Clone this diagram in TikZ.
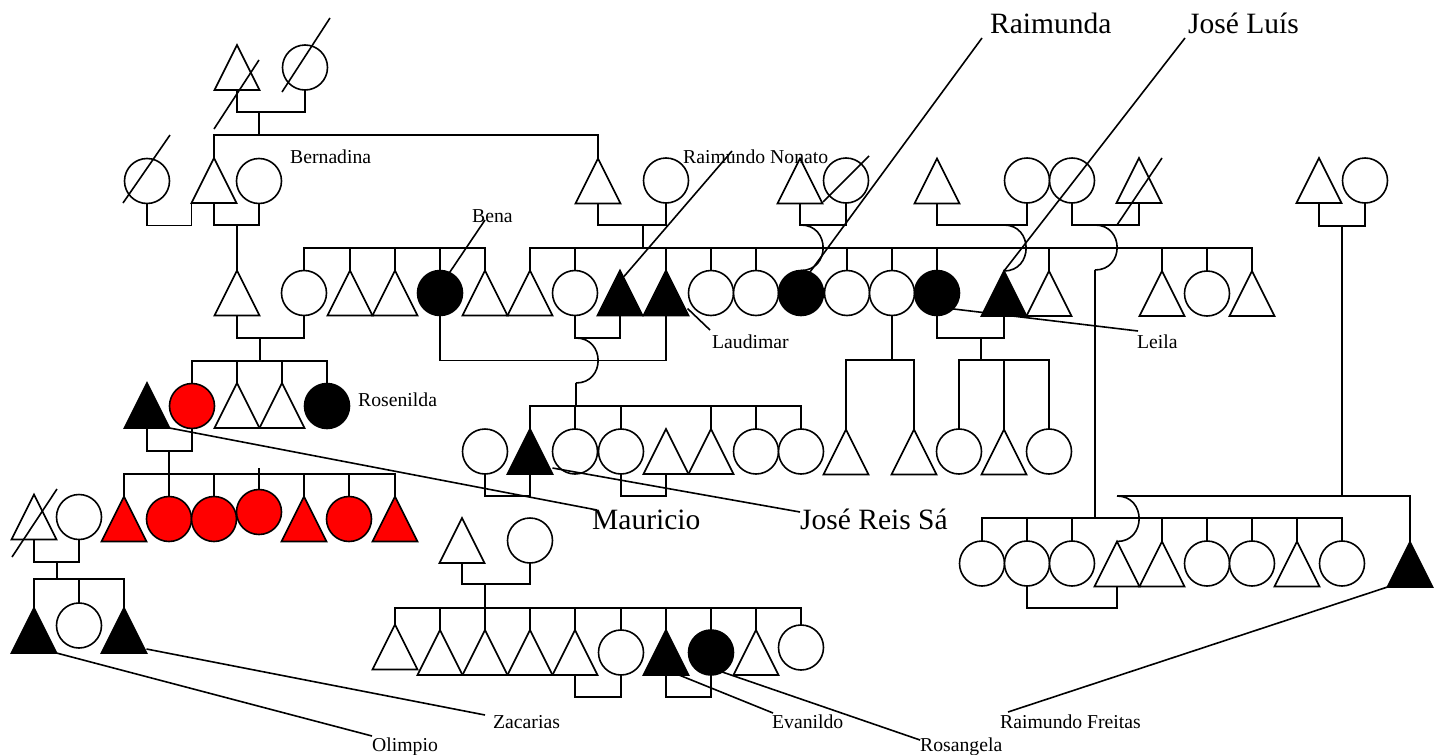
\documentclass[tikz,border=0pt]{standalone}
\usepackage{fontspec}
\setmainfont{Liberation Serif}
\usetikzlibrary{calc}
\tikzset{
 ln/.style={line width=1.6pt},
 tribox/.style={rectangle, minimum width=45pt, minimum height=45pt, inner sep=0pt, outer sep=0pt},
 circ/.style={circle, draw, line width=1.6pt, minimum size=45pt, inner sep=0pt, outer sep=0pt},
 sm/.style={font=\fontsize{19.7}{22}\selectfont, inner sep=0pt, anchor=base west},
 lg/.style={font=\fontsize{29.5}{32}\selectfont, inner sep=0pt, anchor=base west},
}
\newcommand\PTri[4][white]{\node[tribox] (#2) at (#3,#4) {};\filldraw[ln,fill=#1,line join=miter] (#2.south west) -- (#2.north) -- (#2.south east) -- cycle;}
\newcommand\PCir[4][white]{\node[circ,fill=#1] (#2) at (#3,#4) {};}
\newcommand\hop[2]{\draw[ln] (#1) .. controls +(29.5,0) and +(29.5,0) .. (#2);}
\begin{document}
\begin{tikzpicture}[x=1pt,y=-1pt]
\fill[white] (0,0) rectangle (1441,755);
\useasboundingbox (0,0) rectangle (1441,755);
% ---------- people ----------
\PTri{g1m}{237}{67.5}
\PCir{g1f}{305}{67.5}
\PCir{g2a}{147}{181}
\PTri{g2b}{214}{180.5}
\PCir{g2c}{259}{181}
\PTri{g2d}{598}{181}
\PCir{g2e}{666}{180.5}
\PTri{g2f}{800}{181}
\PCir{g2g}{846}{180.5}
\PTri{g2h}{937}{181}
\PCir{g2i}{1027}{180.5}
\PCir{g2j}{1072}{180.5}
\PTri{g2k}{1139}{180.5}
\PTri{g2l}{1319}{180.5}
\PCir{g2m}{1365}{180.5}
% gen 3
\PTri{g3a}{237}{293}
\PCir{c1}{304}{293}
\PTri{c2}{350}{293}
\PTri{c3}{395}{293}
\PCir[black]{c4}{440}{293}
\PTri{c5}{485}{293}
\PTri{d1}{530}{293}
\PCir{d2}{575}{293}
\PTri[black]{d3}{620}{293}
\PTri[black]{d4}{666}{293}
\PCir{d5}{711}{293}
\PCir{d6}{756}{293}
\PCir[black]{d7}{801}{293}
\PCir{d8}{847}{293}
\PCir{d9}{892}{293}
\PCir[black]{d10}{937}{293}
\PTri[black]{d11}{1004}{293.5}
\PTri{d12}{1049}{293.5}
\PTri{d13}{1162}{293.5}
\PCir{d14}{1207}{293.5}
\PTri{d15}{1252}{293.5}
% gen 4 left
\PTri[black]{e1}{147}{405.5}
\PCir[red]{e2}{192}{406}
\PTri{e3}{237}{405.5}
\PTri{e4}{282}{405.5}
\PCir[black]{e5}{327}{406}
% gen 4 middle
\PCir{f1}{485}{451.5}
\PTri[black]{f2}{530}{451.5}
\PCir{f3}{575}{451.5}
\PCir{f4}{621}{451.5}
\PTri{f5}{666}{451.5}
\PTri{f6}{711}{451.5}
\PCir{f7}{756}{451.5}
\PCir{f8}{801}{451.5}
\PTri{f9}{846}{452}
\PTri{f10}{914}{452}
\PCir{f11}{959}{451.5}
\PTri{f12}{1004}{452}
\PCir{f13}{1049}{451.5}
% gen 5 red
\PTri[red]{h1}{124}{519}
\PCir[red]{h2}{169}{519}
\PCir[red]{h3}{214}{519}
\PCir[red]{h4}{259}{512}
\PTri[red]{h5}{304}{519}
\PCir[red]{h6}{349}{519}
\PTri[red]{h7}{395}{519}
% bottom left
\PTri{k1}{34}{517}
\PCir{k2}{79}{517}
\PTri[black]{k3}{34}{630.5}
\PCir{k4}{79}{625.5}
\PTri[black]{k5}{124}{630.5}
% bottom middle
\PTri{m1}{462}{540.5}
\PCir{m2}{530}{540.5}
\PTri{n1}{395}{647}
\PTri{n2}{440}{652.5}
\PTri{n3}{485}{652.5}
\PTri{n4}{530}{652.5}
\PTri{n5}{575}{652.5}
\PCir{n6}{621}{652.5}
\PTri[black]{n7}{666}{652.5}
\PCir[black]{n8}{711}{652.5}
\PTri{n9}{756}{652.5}
\PCir{n10}{801}{647.5}
% bottom right
\PCir{p1}{982}{563.5}
\PCir{p2}{1027}{563.5}
\PCir{p3}{1072}{563.5}
\PTri{p4}{1117}{564}
\PTri{p5}{1162}{564}
\PCir{p6}{1207}{563.5}
\PCir{p7}{1252}{563.5}
\PTri{p8}{1297}{564}
\PCir{p9}{1342}{563.5}
\PTri[black]{p10}{1410}{564.5}
% ---------- connectors ----------
\coordinate (D1) at (259,112); \coordinate (S1) at (259,135);
\draw[ln] (g1m.south) |- (D1) -| (g1f.south);
\draw[ln] (D1) -- (S1);
\draw[ln] (g2b.north) |- (S1) -| (g2d.north);
\draw[ln] (g2a.south) -- ++(0,22) -| (g2b.south west);
\coordinate (D2) at (237,225);
\draw[ln] (g2b.south) |- (D2) -| (g2c.south);
\draw[ln] (D2) -- (g3a.north);
\coordinate (D3) at (643,225); \coordinate (S3) at (643,248);
\draw[ln] (g2d.south) |- (D3) -| (g2e.south);
\draw[ln] (D3) -- (S3);
\draw[ln] (d1.north) |- (S3) -| (d15.north);
\foreach \c in {d2,d4,d5,d6,d8,d9,d10,d12,d13,d14} \draw[ln] (\c.north) -- (\c.north |- S3);
\coordinate (S0) at (304,248);
\draw[ln] (c1.north) |- (S0) -| (c5.north);
\foreach \c in {c2,c3,c4} \draw[ln] (\c.north) -- (\c.north |- S0);
\coordinate (D5) at (801,225);
\draw[ln] (g2f.south) |- (D5) -| (g2g.south);
\hop{D5}{d7.north}
\coordinate (D6) at (1004,225);
\draw[ln] (g2h.south) |- (D6) -| (g2i.south);
\hop{D6}{d11.north}
\coordinate (D7) at (1095,225); \coordinate (H7) at (1095,270); \coordinate (S7) at (1095,518);
\draw[ln] (g2j.south) |- (D7) -| (g2k.south);
\hop{D7}{H7}
\draw[ln] (H7) -- (S7);
\draw[ln] (p1.north) |- (S7) -| (p9.north);
\foreach \c in {p2,p3,p5,p6,p7,p8} \draw[ln] (\c.north) -- (\c.north |- S7);
\coordinate (D8) at (1342,226); \coordinate (S8) at (1342,496);
\draw[ln] (g2l.south) |- (D8) -| (g2m.south);
\draw[ln] (D8) -- (S8);
\draw[ln] (p4.north |- S8) -- (p10.north |- S8) -- (p10.north);
\hop{p4.north |- S8}{p4.north}
\coordinate (D9) at (260,338); \coordinate (S9) at (260,361);
\draw[ln] (g3a.south) |- (D9) -| (c1.south);
\draw[ln] (D9) -- (S9);
\draw[ln] (e2.north) |- (S9) -| (e5.north);
\foreach \c in {e3,e4} \draw[ln] (\c.north) -- (\c.north |- S9);
\draw[ln] (c4.south) -- ++(0,45) -| (d4.south);
\coordinate (D11) at (576,338); \coordinate (H11) at (576,383); \coordinate (S11) at (576,406);
\draw[ln] (d2.south) |- (D11) -| (d3.south);
\hop{D11}{H11}
\draw[ln] (H11) -- (S11);
\draw[ln] (f2.north) |- (S11) -| (f8.north);
\foreach \c in {f3,f4,f6,f7} \draw[ln] (\c.north) -- (\c.north |- S11);
\coordinate (S12) at (892,360);
\draw[ln] (d9.south) -- (S12);
\draw[ln] (f9.north) |- (S12) -| (f10.north);
\coordinate (D13) at (981,338); \coordinate (S13) at (981,360);
\draw[ln] (d10.south) |- (D13) -| (d11.south);
\draw[ln] (D13) -- (S13);
\draw[ln] (f11.north) |- (S13) -| (f13.north);
\draw[ln] (f12.north) -- (f12.north |- S13);
\coordinate (D14) at (169,451); \coordinate (S14) at (169,474);
\draw[ln] (e1.south) |- (D14) -| (e2.south);
\draw[ln] (D14) -- (S14);
\draw[ln] (h1.north) |- (S14) -| (h7.north);
\foreach \c in {h2,h3,h5,h6} \draw[ln] (\c.north) -- (\c.north |- S14);
\draw[ln] (h4.north) -- ++(0,-22);
\coordinate (D15) at (57,562); \coordinate (S15) at (57,579);
\draw[ln] (k1.south) |- (D15) -| (k2.south);
\draw[ln] (D15) -- (S15);
\draw[ln] (k3.north) |- (S15) -| (k5.north);
\draw[ln] (k4.north) -- (k4.north |- S15);
\draw[ln] (f1.south) -- ++(0,22) -| (f2.south);
\draw[ln] (f4.south) -- ++(0,22) -| (f5.south);
\coordinate (D16) at (485,584); \coordinate (S16) at (485,608);
\draw[ln] (m1.south) |- (D16) -| (m2.south);
\draw[ln] (D16) -- (S16);
\draw[ln] (n1.north) |- (S16) -| (n10.north);
\foreach \c in {n2,n3,n4,n5,n6,n7,n8,n9} \draw[ln] (\c.north) -- (\c.north |- S16);
\draw[ln] (n5.south) -- ++(0,22) -| (n6.south);
\draw[ln] (n7.south) -- ++(0,22) -| (n8.south);
\draw[ln] (p2.south) -- ++(0,22) -| (p4.south);
% ---------- deceased slashes ----------
\draw[ln] (g1m.center) ++(-23,61.5) -- ++(45,-69);
\draw[ln] (g1f.center) ++(-23,24.5) -- ++(48,-74);
\draw[ln] (g2a.center) ++(-24,22) -- ++(47,-68);
\draw[ln] (g2g.center) ++(-23,21.5) -- ++(46,-46);
\draw[ln] (g2k.center) ++(-22,44.5) -- ++(45,-67);
\draw[ln] (k1.center) ++(-22,40) -- ++(45,-68);
% ---------- labels ----------
\node[sm] (tBer) at (290,163) {Bernadina};
\node[sm] (tBen) at (472,222) {Bena};
\node[sm] (tRN) at (683,163) {Raimundo Nonato};
\node[sm] (tLa) at (712,348) {Laudimar};
\node[sm] (tLe) at (1137,348) {Leila};
\node[sm] (tRos) at (358,406) {Rosenilda};
\node[lg] (tRa) at (990,33) {Raimunda};
\node[lg] (tJL) at (1188,33) {José Luís};
\node[lg] (tMa) at (592,529) {Mauricio};
\node[lg] (tJR) at (800,529) {José Reis Sá};
\node[sm] (tZa) at (493,728) {Zacarias};
\node[sm] (tOl) at (372,751) {Olimpio};
\node[sm] (tEv) at (772,728) {Evanildo};
\node[sm] (tRo) at (920,751) {Rosangela};
\node[sm] (tRF) at (1000,728) {Raimundo Freitas};
% ---------- leaders ----------
\coordinate (lRN) at (732,151);
\coordinate (lRa) at (982,38);
\coordinate (lJL) at (1185,38);
\coordinate (lBe) at (485,220);
\coordinate (lLa) at (710,330);
\coordinate (lLe) at (1138,331);
\coordinate (lMa) at (597,510);
\coordinate (lJR) at (800,512);
\coordinate (lOl) at (372,736);
\coordinate (lZa) at (485,715);
\coordinate (lEv) at (773,713);
\coordinate (lRo) at (920,740);
\coordinate (lRF) at (1008,712);
\draw[ln] (lRN) -- ($(d3.north)+(4,6)$);
\draw[ln] (lRa) -- (d7.67);
\draw[ln] (lJL) -- (d11.north);
\draw[ln] (lBe) -- (c4.65);
\draw[ln] (lLa) -- ($(d4.south east)+(-1,-7)$);
\draw[ln] (lLe) -- (d10.-45);
\draw[ln] (lMa) -- (e1.south east);
\draw[ln] (lJR) -- ($(f2.south east)+(0,-6)$);
\draw[ln] (lOl) -- (k3.south east);
\draw[ln] (lZa) -- ($(k5.south east)+(0,-4)$);
\draw[ln] (lEv) -- ($(n7.south)+(13,0)$);
\draw[ln] (lRo) -- (n8.-60);
\draw[ln] (lRF) -- (p10.south west);
\end{tikzpicture}
\end{document}
